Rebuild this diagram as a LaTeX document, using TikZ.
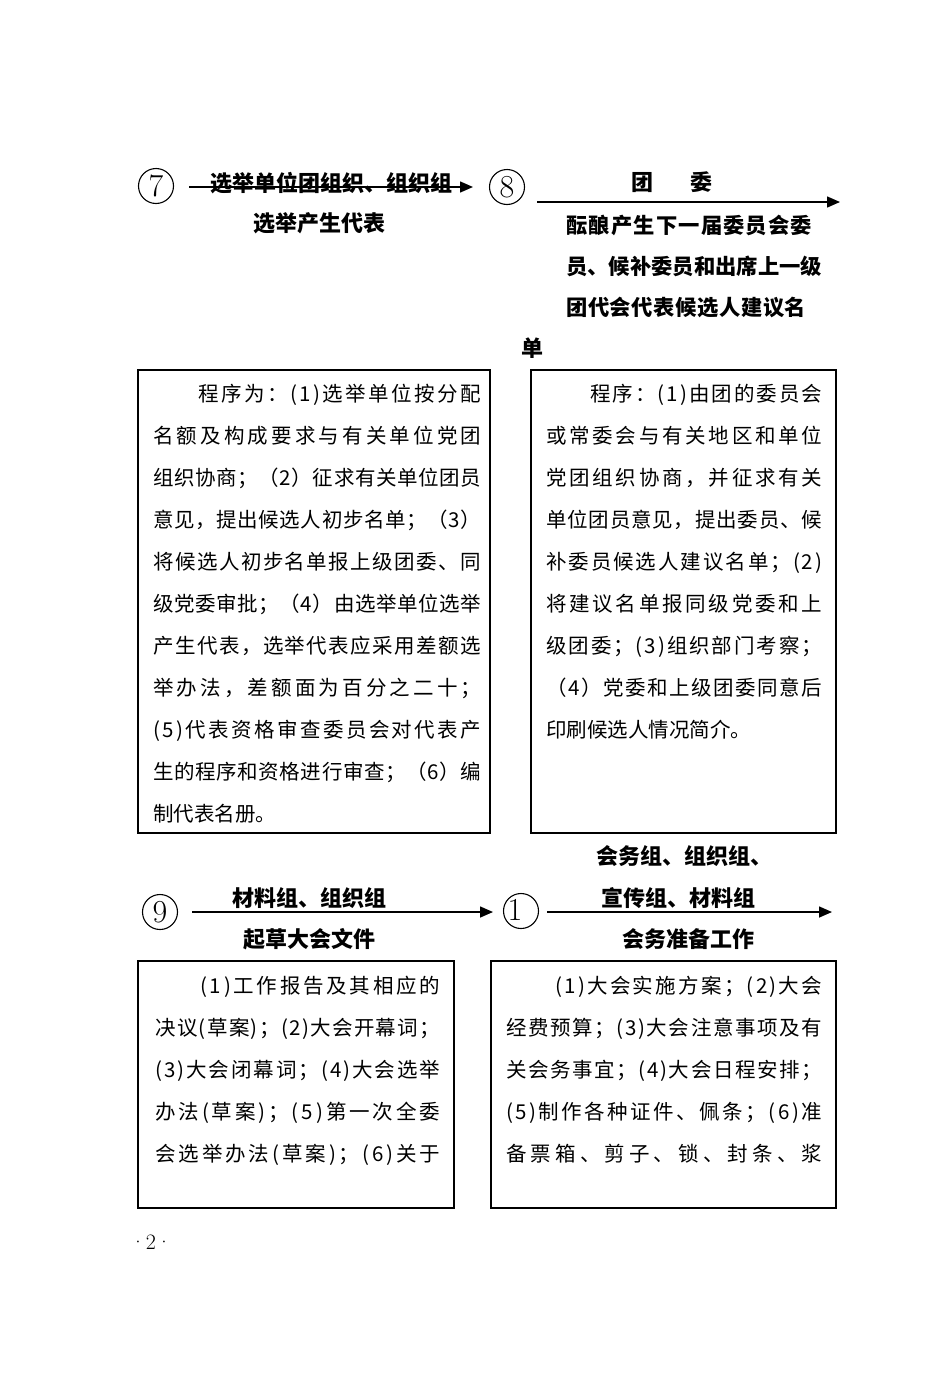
\documentclass[tikz,border=0pt]{standalone}
\usepackage{fontspec}
\newfontfamily\cjk{Noto Sans CJK SC}
\usetikzlibrary{arrows.meta}
\def\spx#1{\ifx#1\relax\else\hfil#1\expandafter\spx\fi}
\def\jfirst#1{#1\spx}
\newcommand\jl[3]{\hbox to #1pt{\hskip#2pt\relax\jfirst#3\relax}}
\tikzset{
  head/.style={inner sep=0pt, font=\cjk\bfseries\fontsize{22}{22}\selectfont},
  body/.style={anchor=base west, inner sep=0pt, font=\cjk\fontsize{20.5}{42}\selectfont},
  frame/.style={draw, line width=1.6pt},
  num/.style={circle, draw, line width=1.1pt, minimum size=35pt, inner sep=0pt, font=\fontsize{32}{32}\selectfont},
  arr/.style={line width=1.5pt, -{Triangle[length=13pt,width=11pt]}}
}
\begin{document}
\begin{tikzpicture}[x=1pt,y=-1pt]
\useasboundingbox (0,0) rectangle (950,1373);

% ---- row 1 ----
\node[num] (c7) at (156,186) {7};
\coordinate (a7s) at (189,187);
\coordinate (a7e) at (473,187);
\draw[arr] (a7s) -- (a7e);
\node[head] (l7a) at (331,183) {选举单位团组织、组织组};
\node[head] (l7b) at (319,223) {选举产生代表};

\node[num] (c8) at (507,187) {8};
\coordinate (a8s) at (537,202);
\coordinate (a8e) at (840,202);
\draw[arr] (a8s) -- (a8e);
\node[head] (l8a) at (672,182) {团\hspace{37pt}委};
\node[head, anchor=base west, font=\cjk\bfseries\fontsize{21.3}{22}\selectfont] (l8b) at (566,233) {\vtop{\baselineskip=41pt
  \jl{246}{0}{酝酿产生下一届委员会委}
  \jl{256}{0}{员、候补委员和出席上一级}
  \jl{240}{0}{团代会代表候选人建议名}}};
\node[head] (l8c) at (532,348) {单};

% ---- boxes row 1 ----
\draw[frame] (138,370) rectangle (490,833);
\node[body] (t1) at (153,401) {\vtop{\baselineskip=42pt
  \jl{328}{45}{程序为：(1)选举单位按分配}
  \jl{328}{0}{名额及构成要求与有关单位党团}
  \jl{328}{0}{组织协商；（2）征求有关单位团员}
  \jl{328}{0}{意见，提出候选人初步名单；（3）}
  \jl{328}{0}{将候选人初步名单报上级团委、同}
  \jl{328}{0}{级党委审批；（4）由选举单位选举}
  \jl{328}{0}{产生代表，选举代表应采用差额选}
  \jl{328}{0}{举办法，差额面为百分之二十；}
  \jl{328}{0}{(5)代表资格审查委员会对代表产}
  \jl{328}{0}{生的程序和资格进行审查；（6）编}
  \hbox{制代表名册。}}};

\draw[frame] (531,370) rectangle (836,833);
\node[body] (t2) at (546,401) {\vtop{\baselineskip=42pt
  \jl{276}{44}{程序：(1)由团的委员会}
  \jl{276}{0}{或常委会与有关地区和单位}
  \jl{276}{0}{党团组织协商，并征求有关}
  \jl{276}{0}{单位团员意见，提出委员、候}
  \jl{276}{0}{补委员候选人建议名单；(2)}
  \jl{276}{0}{将建议名单报同级党委和上}
  \jl{276}{0}{级团委；(3)组织部门考察；}
  \jl{276}{0}{（4）党委和上级团委同意后}
  \hbox{印刷候选人情况简介。}}};

% ---- row 2 ----
\node[num] (c9) at (160,912) {9};
\coordinate (a9s) at (192,912);
\coordinate (a9e) at (493,912);
\draw[arr] (a9s) -- (a9e);
\node[head] (l9a) at (309,898) {材料组、组织组};
\node[head] (l9b) at (309,939) {起草大会文件};

\node[num] (c10) at (521,911) {};
\node[inner sep=0pt, font=\fontsize{32}{32}\selectfont] (n10) at (515,910) {1};
\coordinate (a10s) at (547,912);
\coordinate (a10e) at (832,912);
\draw[arr] (a10s) -- (a10e);
\node[head] (l10a) at (684,856) {会务组、组织组、};
\node[head] (l10b) at (678,898) {宣传组、材料组};
\node[head] (l10c) at (688,939) {会务准备工作};

% ---- boxes row 2 ----
\draw[frame] (138,961) rectangle (454,1208);
\node[body] (t3) at (155,993) {\vtop{\baselineskip=42pt
  \jl{285}{45}{(1)工作报告及其相应的}
  \jl{285}{0}{决议(草案)；(2)大会开幕词；}
  \jl{285}{0}{(3)大会闭幕词；(4)大会选举}
  \jl{285}{0}{办法(草案)；(5)第一次全委}
  \jl{285}{0}{会选举办法(草案)；(6)关于}}};

\draw[frame] (491,961) rectangle (836,1208);
\node[body] (t4) at (506,993) {\vtop{\baselineskip=42pt
  \jl{316}{49}{(1)大会实施方案；(2)大会}
  \jl{316}{0}{经费预算；(3)大会注意事项及有}
  \jl{316}{0}{关会务事宜；(4)大会日程安排；}
  \jl{316}{0}{(5)制作各种证件、佩条；(6)准}
  \jl{316}{0}{备票箱、剪子、锁、封条、浆}}};

\node[inner sep=0pt, font=\fontsize{22}{22}\selectfont] (pg) at (151,1242) {·2·};
\end{tikzpicture}
\end{document}
